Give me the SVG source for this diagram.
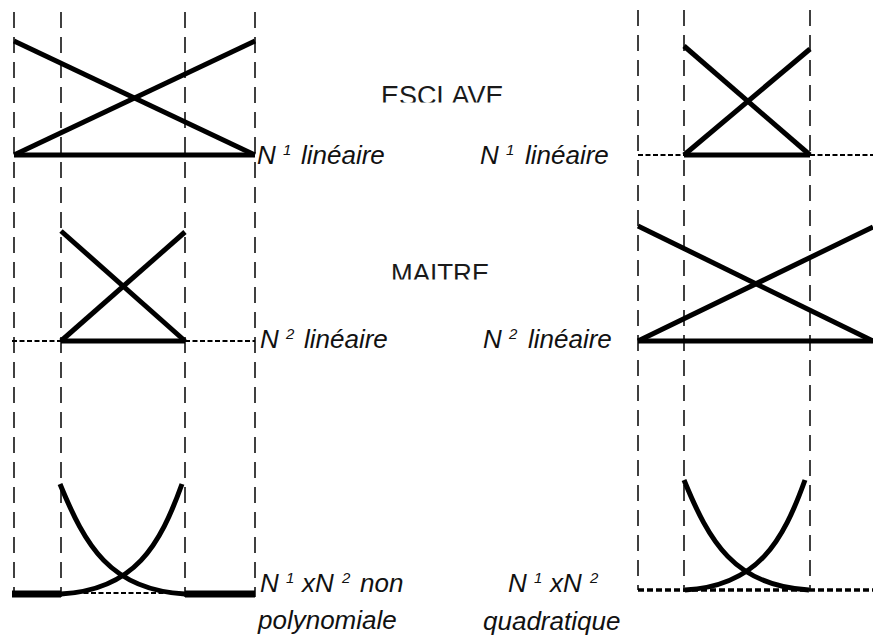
<svg xmlns="http://www.w3.org/2000/svg" width="873" height="637" viewBox="0 0 873 637">
<style>
.guide{stroke:#111;stroke-width:1.6;stroke-dasharray:16 9;fill:none}
.thick{stroke:#000;stroke-width:5;fill:none;stroke-linecap:butt}
.curve{stroke:#000;stroke-width:5;fill:none}
.dot{stroke:#000;stroke-width:2.2;stroke-dasharray:5 2.5;fill:none}
.dot2{stroke:#000;stroke-width:3.5;stroke-dasharray:6 3;fill:none}
.bar{stroke:#000;stroke-width:7;fill:none}
.lbl{font-family:"Liberation Sans",Arial,sans-serif;font-style:italic;font-size:26px;fill:#111}
.sup{font-size:15px}
.title{font-family:"Liberation Sans",Arial,sans-serif;font-size:27px;fill:#1a1a1a}
</style>
<defs>
<clipPath id="clipE"><rect x="370" y="70" width="150" height="32.5"/></clipPath>
<clipPath id="clipM"><rect x="380" y="250" width="120" height="29.5"/></clipPath>
</defs>
<rect width="873" height="637" fill="#fff"/>
<g id="guides">
<line class="guide" x1="14" y1="12" x2="14" y2="597"/>
<line class="guide" x1="61" y1="12" x2="61" y2="597"/>
<line class="guide" x1="185" y1="12" x2="185" y2="597"/>
<line class="guide" x1="255" y1="12" x2="255" y2="597"/>
<line class="guide" x1="638" y1="10" x2="638" y2="590"/>
<line class="guide" x1="684" y1="10" x2="684" y2="592"/>
<line class="guide" x1="810" y1="10" x2="810" y2="590"/>
</g>
<g id="titles">
<text class="title" x="381" y="105" clip-path="url(#clipE)">ESCLAVE</text>
<text class="title" x="391" y="282" style="font-size:26px" clip-path="url(#clipM)">MAITRE</text>
</g>
<g id="esclave-n1">
<line class="thick" x1="14" y1="41" x2="255" y2="155"/>
<line class="thick" x1="14" y1="155" x2="255" y2="41"/>
<line class="thick" x1="14" y1="155" x2="255" y2="155"/>
<text class="lbl" y="164"><tspan x="257">N</tspan><tspan class="sup" x="283" y="155">1</tspan><tspan x="301" y="164">linéaire</tspan></text>
</g>
<g id="maitre-n1">
<line class="dot" x1="638" y1="155" x2="684" y2="155"/>
<line class="dot" x1="810" y1="155" x2="873" y2="155"/>
<line class="thick" x1="684" y1="46" x2="810" y2="155"/>
<line class="thick" x1="684" y1="155" x2="810" y2="49"/>
<line class="thick" x1="684" y1="155" x2="810" y2="155"/>
<text class="lbl" y="164"><tspan x="480">N</tspan><tspan class="sup" x="506" y="155">1</tspan><tspan x="525" y="164">linéaire</tspan></text>
</g>
<g id="esclave-n2">
<line class="dot" x1="12" y1="341" x2="61" y2="341"/>
<line class="dot" x1="185" y1="341" x2="255" y2="341"/>
<line class="thick" x1="61" y1="231" x2="185" y2="341"/>
<line class="thick" x1="61" y1="341" x2="185" y2="232"/>
<line class="thick" x1="61" y1="341" x2="185" y2="341"/>
<text class="lbl" y="348"><tspan x="260">N</tspan><tspan class="sup" x="286" y="339">2</tspan><tspan x="304" y="348">linéaire</tspan></text>
</g>
<g id="maitre-n2">
<line class="thick" x1="638" y1="226" x2="873" y2="341"/>
<line class="thick" x1="638" y1="341" x2="873" y2="227"/>
<line class="thick" x1="638" y1="341" x2="873" y2="341"/>
<text class="lbl" y="348"><tspan x="483">N</tspan><tspan class="sup" x="509" y="339">2</tspan><tspan x="528" y="348">linéaire</tspan></text>
</g>
<g id="esclave-product">
<line class="dot" x1="61" y1="593" x2="185" y2="593"/>
<line class="bar" x1="12" y1="594" x2="61" y2="594"/>
<line class="bar" x1="185" y1="594" x2="255" y2="594"/>
<path class="curve" d="M60,484 C85,545 110,590 185,594"/>
<path class="curve" d="M182,484 C160,545 135,590 61,594"/>
<text class="lbl" y="592"><tspan x="260">N</tspan><tspan class="sup" x="286" y="583">1</tspan><tspan x="302" y="592">xN</tspan><tspan class="sup" x="342" y="583">2</tspan><tspan x="360" y="592">non</tspan></text>
<text class="lbl" x="258" y="629">polynomiale</text>
</g>
<g id="maitre-product">
<line class="dot2" x1="638" y1="590" x2="873" y2="590"/>
<path class="curve" d="M684,480 C709,541 734,586 809,590"/>
<path class="curve" d="M805,480 C783,541 758,586 685,590"/>
<text class="lbl" y="592"><tspan x="508">N</tspan><tspan class="sup" x="534" y="583">1</tspan><tspan x="550" y="592">xN</tspan><tspan class="sup" x="590" y="583">2</tspan></text>
<text class="lbl" x="483" y="630">quadratique</text>
</g>
</svg>
